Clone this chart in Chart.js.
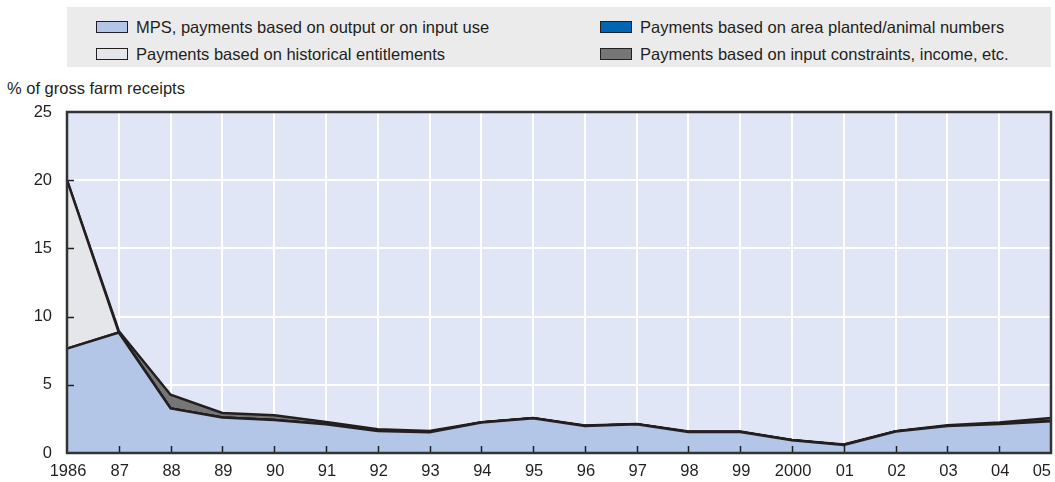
<!DOCTYPE html>
<html>
<head>
<meta charset="utf-8">
<script src="https://cdn.jsdelivr.net/npm/chart.js@4.4.1/dist/chart.umd.min.js"></script>
<style>
  html,body{margin:0;padding:0;background:#fff;}
  body{width:1055px;height:482px;position:relative;overflow:hidden;font-family:"Liberation Sans",Arial,sans-serif;color:#231f20;}
  #legend{position:absolute;left:67px;top:7px;width:984px;height:60px;background:#ebebeb;}
  .item{position:absolute;font-size:16.5px;line-height:20px;white-space:nowrap;}
  .sw{position:absolute;left:0;top:4px;width:30px;height:10px;border:1px solid #231f20;}
  .item span.t{position:absolute;left:40px;top:0;}
  #ytitle{position:absolute;left:7px;top:78px;font-size:16.5px;line-height:20px;white-space:nowrap;}
  #wrap{position:absolute;left:0;top:0;width:1055px;height:482px;}
</style>
</head>
<body>
<div id="legend"></div>
<div id="ytitle">% of gross farm receipts</div>
<div id="wrap"><canvas id="c" width="1055" height="482"></canvas></div>
<script>
const years = ['1986','87','88','89','90','91','92','93','94','95','96','97','98','99','2000','01','02','03','04','05'];
const mps = [7.65, 8.83, 3.27, 2.6, 2.42, 2.1, 1.62, 1.52, 2.23, 2.54, 1.98, 2.1, 1.54, 1.54, 0.93, 0.59, 1.57, 1.98, 2.13, 2.32];
const areaPlanted = [0,0,0,0,0,0,0,0,0,0,0,0,0,0,0,0,0,0,0,0];
const historical = [12.35,0,0,0,0,0,0,0,0,0,0,0,0,0,0,0,0,0,0,0];
const inputConstraints = [0, 0.12, 1.0, 0.34, 0.34, 0.17, 0.12, 0.09, 0.03, 0.03, 0.03, 0.03, 0.03, 0.03, 0.03, 0.03, 0.03, 0.05, 0.1, 0.25];
const yTicks = [0,5,10,15,20,25];

const seriesNames = ['MPS, payments based on output or on input use','Payments based on area planted/animal numbers','Payments based on historical entitlements','Payments based on input constraints, income, etc.'];
const seriesColors = ['#b3c6e7','#0066b3','#e5e6ea','#767676'];
const lineColor = '#231f20';

// legend
const legendPos = [[29,10],[533,10],[29,37],[533,37]];
const legend = document.getElementById('legend');
seriesNames.forEach((n,i)=>{
  const d = document.createElement('div');
  d.className='item';
  d.style.left = legendPos[i][0]+'px';
  d.style.top = legendPos[i][1]+'px';
  d.innerHTML = '<div class="sw" style="background:'+seriesColors[i]+'"></div><span class="t">'+n+'</span>';
  legend.appendChild(d);
});

const FONT = '"Liberation Sans", Arial, sans-serif';

const frame = {
  id:'frame',
  beforeDraw(chart){
    const a = chart.chartArea, ctx = chart.ctx;
    ctx.save();
    ctx.fillStyle = '#e0e6f5';
    ctx.fillRect(a.left, a.top, a.right-a.left, a.bottom-a.top);
    ctx.restore();
  },
  afterDatasetsDraw(chart){
    const a = chart.chartArea, ctx = chart.ctx;
    const xs = chart.scales.x, ys = chart.scales.y;
    ctx.save();
    ctx.strokeStyle = '#231f20';
    ctx.lineWidth = 1.5;
    // inner ticks
    ctx.beginPath();
    for (let i=1;i<years.length-1;i++){
      const x = Math.round(xs.getPixelForValue(i))+0.5;
      ctx.moveTo(x, a.bottom); ctx.lineTo(x, a.bottom-7);
    }
    yTicks.forEach(v=>{
      if (v===0||v===25) return;
      const y = Math.round(ys.getPixelForValue(v))+0.5;
      ctx.moveTo(a.left, y); ctx.lineTo(a.left+7, y);
    });
    ctx.stroke();
    // frame
    ctx.lineWidth = 2.5;
    ctx.strokeStyle = '#333';
    ctx.strokeRect(a.left, a.top, a.right-a.left, a.bottom-a.top);
    // x labels
    ctx.fillStyle = '#231f20';
    ctx.font = '16.5px '+FONT;
    ctx.textBaseline = 'middle';
    years.forEach((lab,i)=>{
      const x = xs.getPixelForValue(i);
      if (i===years.length-1){ ctx.textAlign='right'; ctx.fillText(lab, a.right, 471); }
      else { ctx.textAlign='center'; ctx.fillText(lab, x+1, 471); }
    });
    ctx.restore();
  }
};

const dsData = [mps, areaPlanted, historical, inputConstraints];
const datasets = dsData.map((d,i)=>({
  label: seriesNames[i],
  data: d,
  backgroundColor: seriesColors[i],
  borderColor: lineColor,
  borderWidth: 2.5,
  pointRadius: 0,
  tension: 0,
  fill: i===0 ? 'origin' : '-1'
}));

new Chart(document.getElementById('c'), {
  type:'line',
  data:{ labels: years, datasets },
  options:{
    responsive:false,
    animation:false,
    layout:{ padding:{ top:112, right:4, left:0, bottom:0 } },
    plugins:{ legend:{display:false}, tooltip:{enabled:false}, title:{display:false} },
    scales:{
      x:{
        offset:false,
        grid:{ color:'#ffffff', lineWidth:2, drawTicks:false },
        border:{ display:false },
        ticks:{ display:false },
        afterFit(s){ s.height = 29; }
      },
      y:{
        stacked:true,
        min:0, max:25,
        afterBuildTicks(s){ s.ticks = yTicks.map(v=>({value:v})); },
        grid:{ color:'#ffffff', lineWidth:2, drawTicks:false },
        border:{ display:false },
        ticks:{ color:'#231f20', font:{ family: FONT, size:16.5 }, padding:15 },
        afterFit(s){ s.width = 67; }
      }
    }
  },
  plugins:[frame]
});
</script>
</body>
</html>
